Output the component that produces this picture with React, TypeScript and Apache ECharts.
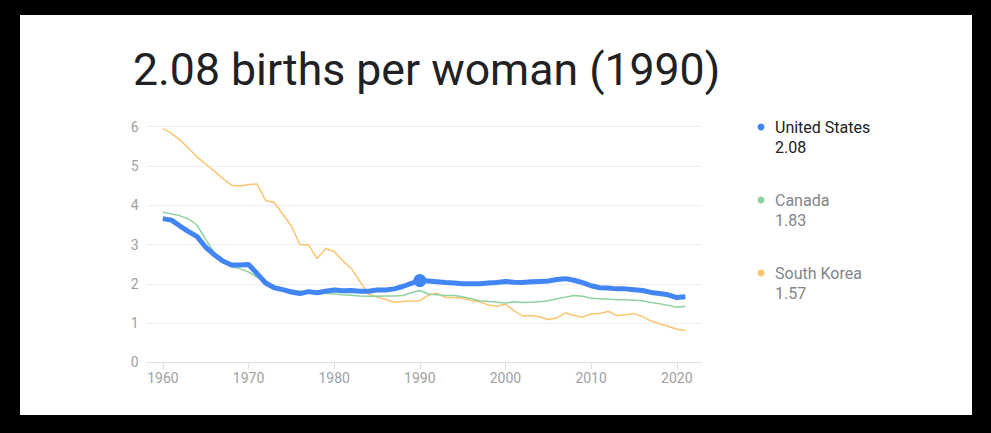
import React, { useEffect, useRef } from "react";
import * as echarts from "echarts";

const years: number[] = Array.from({ length: 62 }, (_, i) => 1960 + i);

const unitedStates: number[] = [
  3.66, 3.62, 3.47, 3.33, 3.2, 2.93, 2.74, 2.58, 2.48, 2.48,
  2.49, 2.26, 2.02, 1.9, 1.85, 1.79, 1.75, 1.8, 1.77, 1.81,
  1.84, 1.82, 1.83, 1.81, 1.81, 1.84, 1.84, 1.87, 1.93, 2.01,
  2.08, 2.07, 2.05, 2.03, 2.02, 2.0, 2.0, 2.0, 2.02, 2.03,
  2.06, 2.04, 2.03, 2.05, 2.06, 2.07, 2.11, 2.13, 2.09, 2.03,
  1.95, 1.9, 1.89, 1.87, 1.87, 1.85, 1.83, 1.78, 1.75, 1.72,
  1.65, 1.67,
];

const canada: number[] = [
  3.82, 3.78, 3.73, 3.65, 3.49, 3.13, 2.79, 2.59, 2.43, 2.38,
  2.3, 2.17, 2.03, 1.93, 1.87, 1.84, 1.81, 1.78, 1.76, 1.76,
  1.74, 1.72, 1.71, 1.69, 1.68, 1.68, 1.69, 1.69, 1.7, 1.77,
  1.83, 1.74, 1.72, 1.7, 1.7, 1.67, 1.62, 1.57, 1.55, 1.53,
  1.51, 1.54, 1.52, 1.53, 1.54, 1.57, 1.62, 1.66, 1.7, 1.68,
  1.63, 1.62, 1.61, 1.59, 1.59, 1.58, 1.57, 1.52, 1.49, 1.45,
  1.4, 1.43,
];

const southKorea: number[] = [
  5.95, 5.83, 5.66, 5.45, 5.23, 5.05, 4.87, 4.68, 4.51, 4.49,
  4.53, 4.54, 4.12, 4.07, 3.77, 3.47, 3.0, 2.99, 2.64, 2.9,
  2.82, 2.59, 2.39, 2.06, 1.74, 1.66, 1.6, 1.53, 1.55, 1.56,
  1.57, 1.71, 1.76, 1.65, 1.65, 1.63, 1.57, 1.54, 1.46, 1.43,
  1.48, 1.31, 1.18, 1.19, 1.16, 1.09, 1.13, 1.26, 1.19, 1.15,
  1.23, 1.24, 1.3, 1.19, 1.21, 1.24, 1.17, 1.05, 0.98, 0.92,
  0.84, 0.81,
];

const seriesNames: string[] = ["United States", "Canada", "South Korea"];
const seriesColors: string[] = ["#4285f4", "#8fd19e", "#fbc46e"];
const xTickLabels: number[] = [1960, 1970, 1980, 1990, 2000, 2010, 2020];
const highlightYear = 1990;

export default function App() {
  const ref = useRef<HTMLDivElement>(null);

  useEffect(() => {
    if (!ref.current) return;
    const chart = echarts.init(ref.current, undefined, { renderer: "svg" });
    const allSeries = [unitedStates, canada, southKorea];
    const hi = years.indexOf(highlightYear);
    const font = "Roboto, 'Noto Sans', sans-serif";

    const legendGraphics: any[] = [];
    const legendYs = [112, 185, 258];
    seriesNames.forEach((name, i) => {
      const textColor = i === 0 ? "#202124" : "#80868b";
      legendGraphics.push({
        type: "circle",
        shape: { cx: 741, cy: legendYs[i], r: 3.5 },
        style: { fill: seriesColors[i] },
      });
      legendGraphics.push({
        type: "text",
        x: 755,
        y: legendYs[i],
        style: {
          text: name,
          fill: textColor,
          font: `16px ${font}`,
          verticalAlign: "middle",
        },
      });
      legendGraphics.push({
        type: "text",
        x: 755,
        y: legendYs[i] + 20,
        style: {
          text: allSeries[i][hi].toFixed(2),
          fill: textColor,
          font: `16px ${font}`,
          verticalAlign: "middle",
        },
      });
    });

    chart.setOption({
      animation: false,
      backgroundColor: "#ffffff",
      grid: { left: 126.6, right: 270.4, top: 111.7, bottom: 52.7, containLabel: false },
      xAxis: {
        type: "value",
        min: 1958.1,
        max: 2022.9,
        axisLine: { show: true, lineStyle: { color: "#e0e0e0", width: 1 } },
        axisTick: { show: true, customValues: xTickLabels, length: 7, lineStyle: { color: "#e0e0e0" } },
        axisLabel: {
          customValues: xTickLabels,
          formatter: (v: number) => String(v),
          color: "#a0a0a0",
          fontFamily: font,
          fontSize: 14,
          margin: 9,
        },
        splitLine: { show: false },
      },
      yAxis: {
        type: "value",
        min: 0,
        max: 6,
        interval: 1,
        axisLine: { show: false },
        axisTick: { show: false },
        axisLabel: { color: "#a0a0a0", fontFamily: font, fontSize: 14, margin: 8 },
        splitLine: { lineStyle: { color: "#efefef", width: 1 } },
      },
      series: [
        {
          name: seriesNames[2],
          type: "line",
          data: years.map((y, i) => [y, southKorea[i]]),
          symbol: "none",
          lineStyle: { color: seriesColors[2], width: 1.5 },
          z: 2,
        },
        {
          name: seriesNames[1],
          type: "line",
          data: years.map((y, i) => [y, canada[i]]),
          symbol: "none",
          lineStyle: { color: seriesColors[1], width: 1.5 },
          z: 3,
        },
        {
          name: seriesNames[0],
          type: "line",
          data: years.map((y, i) => [y, unitedStates[i]]),
          symbol: "none",
          lineStyle: { color: seriesColors[0], width: 5 },
          z: 4,
        },
        {
          type: "scatter",
          data: [[highlightYear, unitedStates[hi]]],
          symbol: "circle",
          symbolSize: 13,
          itemStyle: { color: seriesColors[0], opacity: 1 },
          z: 5,
        },
      ],
      graphic: [
        {
          type: "text",
          x: 113,
          y: 55,
          style: {
            text: `${unitedStates[hi].toFixed(2)} births per woman (${highlightYear})`,
            fill: "#202124",
            font: `44.6px ${font}`,
            verticalAlign: "middle",
          },
        },
        ...legendGraphics,
      ],
    });
    return () => chart.dispose();
  }, []);

  return (
    <div style={{ position: "fixed", left: 0, top: 0, width: 991, height: 433, background: "#000" }}>
      <div
        ref={ref}
        style={{ position: "absolute", left: 20, top: 15, width: 952, height: 400, background: "#fff" }}
      />
    </div>
  );
}
